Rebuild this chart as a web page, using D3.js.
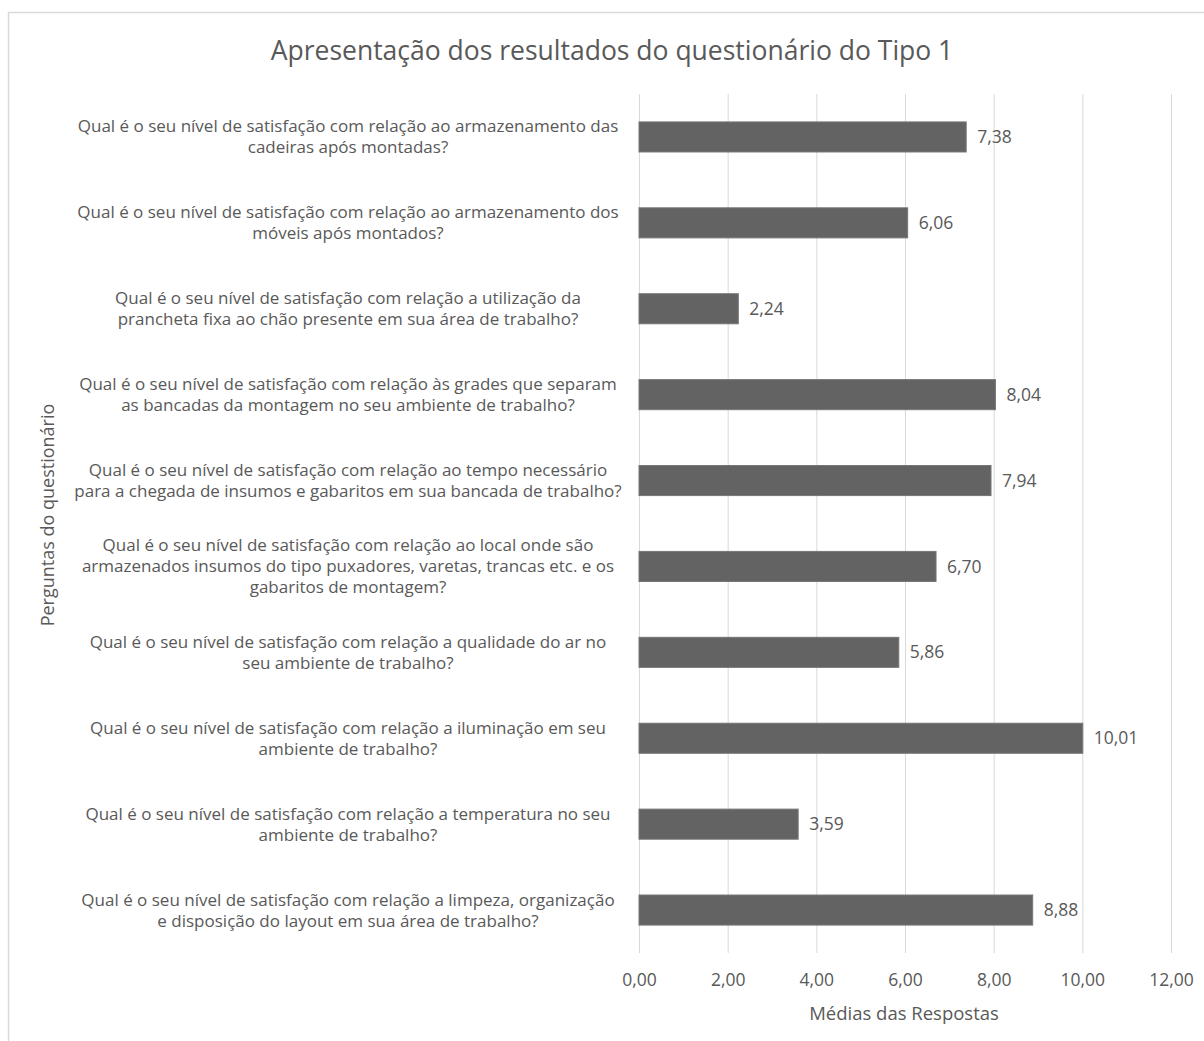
<!DOCTYPE html>
<html>
<head>
<meta charset="utf-8">
<script src="https://cdn.jsdelivr.net/npm/d3@7"></script>
<style>
  body { margin: 0; background: #fff; }
  text { font-family: "Open Sans", "Noto Sans", sans-serif; fill: #595959; }
</style>
</head>
<body>
<script>
// perguntas (de cima para baixo), com as quebras de linha do original
var questions = [
  ["Qual é o seu nível de satisfação com relação ao armazenamento das", "cadeiras após montadas?"],
  ["Qual é o seu nível de satisfação com relação ao armazenamento dos", "móveis após montados?"],
  ["Qual é o seu nível de satisfação com relação a utilização da", "prancheta fixa ao chão presente em sua área de trabalho?"],
  ["Qual é o seu nível de satisfação com relação às grades que separam", "as bancadas da montagem no seu ambiente de trabalho?"],
  ["Qual é o seu nível de satisfação com relação ao tempo necessário", "para a chegada de insumos e gabaritos em sua bancada de trabalho?"],
  ["Qual é o seu nível de satisfação com relação ao local onde são", "armazenados insumos do tipo puxadores, varetas, trancas etc. e os", "gabaritos de montagem?"],
  ["Qual é o seu nível de satisfação com relação a qualidade do ar no", "seu ambiente de trabalho?"],
  ["Qual é o seu nível de satisfação com relação a iluminação em seu", "ambiente de trabalho?"],
  ["Qual é o seu nível de satisfação com relação  a temperatura no seu", "ambiente de trabalho?"],
  ["Qual é o seu nível de satisfação com relação a limpeza, organização", "e disposição do layout em sua área de trabalho?"]
];
var medias = [7.38, 6.06, 2.24, 8.04, 7.94, 6.70, 5.86, 10.01, 3.59, 8.88];
var xTicks = [0, 2, 4, 6, 8, 10, 12];

(function(){
    var width = 1204, height = 1041;
    var plotLeft = 639, plotRight = 1171, plotTop = 94, plotBottom = 953;

    var svg = d3.select("body").append("svg")
                .attr("width", width)
                .attr("height", height);

    // moldura
    svg.append("rect")
       .attr("x", 8.5).attr("y", 12.5)
       .attr("width", 1220).attr("height", 1100)
       .attr("fill", "#fff")
       .attr("stroke", "#d9d9d9")
       .attr("stroke-width", 1.5);

    var x = d3.scaleLinear().domain([0, 12]).range([plotLeft, plotRight]);
    var y = d3.scaleBand().domain(d3.range(questions.length))
              .range([plotTop, plotBottom])
              .paddingInner(0.65).paddingOuter(0.325);
    var fmt = function(d){ return d3.format(".2f")(d).replace(".", ","); };

    // linhas de grade
    svg.append("g").selectAll("line")
       .data(xTicks).enter().append("line")
       .attr("x1", function(d){ return x(d) + 0.5; })
       .attr("x2", function(d){ return x(d) + 0.5; })
       .attr("y1", plotTop).attr("y2", plotBottom)
       .attr("stroke", "#d9d9d9").attr("stroke-width", 1);

    // eixo x
    var xAxis = d3.axisBottom(x).tickValues(xTicks).tickSize(0).tickPadding(0).tickFormat(fmt);
    var gx = svg.append("g").attr("transform", "translate(0,974)").call(xAxis);
    gx.select(".domain").remove();
    gx.selectAll("text").attr("font-size", 17.5).attr("fill", "#595959")
      .style("font-family", "\"Open Sans\", sans-serif");

    // barras
    svg.append("g").selectAll("rect")
       .data(medias).enter().append("rect")
       .attr("x", x(0))
       .attr("y", function(d, i){ return y(i); })
       .attr("width", function(d){ return x(d) - x(0); })
       .attr("height", y.bandwidth())
       .attr("fill", "#636363")
       .attr("stroke", "#767676")
       .attr("stroke-width", 1);

    // rótulos de valor
    svg.append("g").selectAll("text")
       .data(medias).enter().append("text")
       .attr("x", function(d){ return x(d) + 11; })
       .attr("y", function(d, i){ return y(i) + y.bandwidth() / 2; })
       .attr("dy", "0.35em")
       .attr("font-size", 17.5)
       .text(fmt);

    // perguntas
    var labels = svg.append("g").selectAll("text")
       .data(questions).enter().append("text")
       .attr("text-anchor", "middle")
       .attr("font-size", 17)
       .attr("y", function(d, i){ return y(i) + y.bandwidth() / 2 - (d.length - 1) * 10.5; });
    labels.selectAll("tspan")
       .data(function(d){ return d; }).enter().append("tspan")
       .attr("x", 348)
       .attr("dy", function(d, j){ return j === 0 ? "0.35em" : 21; })
       .text(function(d){ return d; });

    // títulos
    svg.append("text")
       .attr("x", 612).attr("y", 60)
       .attr("text-anchor", "middle")
       .attr("font-size", 26.5)
       .text("Apresentação dos resultados do questionário do Tipo 1");

    svg.append("text")
       .attr("x", 904).attr("y", 1020)
       .attr("text-anchor", "middle")
       .attr("font-size", 18.5)
       .text("Médias das Respostas");

    svg.append("text")
       .attr("transform", "translate(54,515) rotate(-90)")
       .attr("text-anchor", "middle")
       .attr("font-size", 18)
       .text("Perguntas do questionário");
})();
</script>
</body>
</html>
